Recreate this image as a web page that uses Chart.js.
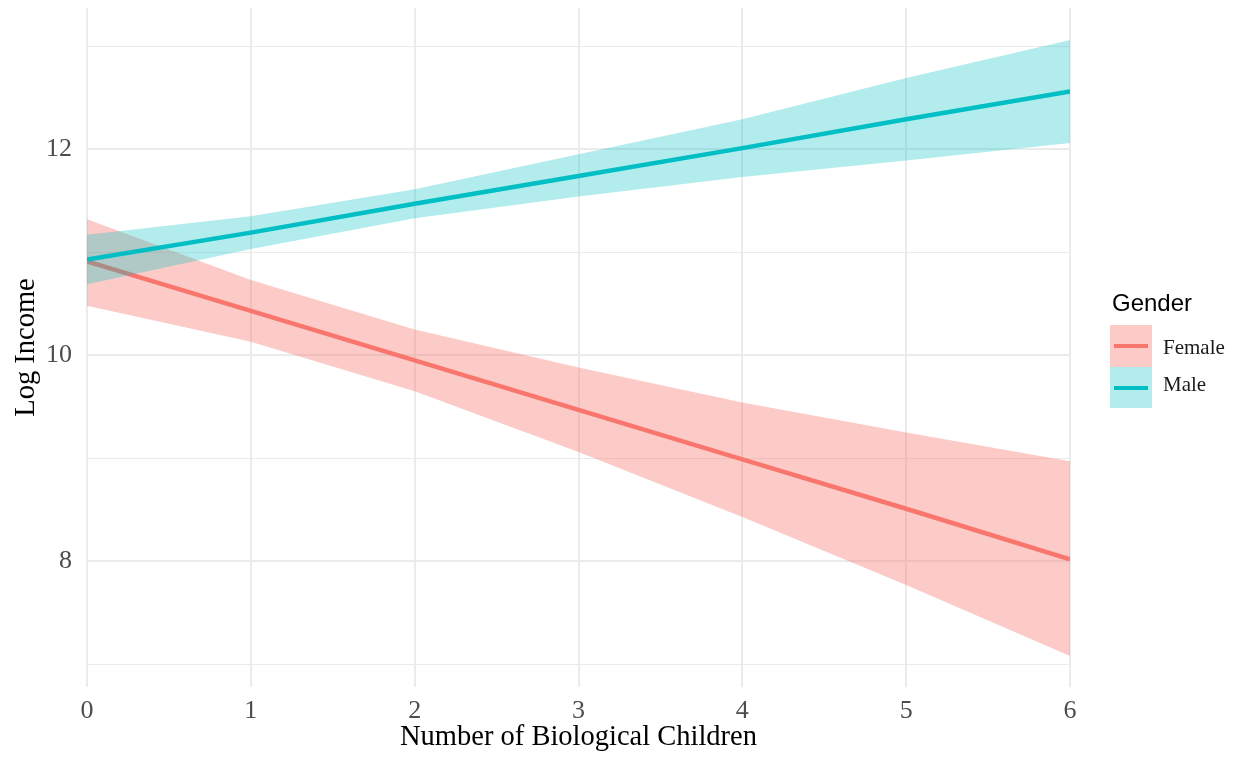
<!DOCTYPE html>
<html>
<head>
<meta charset="utf-8">
<script src="https://cdn.jsdelivr.net/npm/chart.js@4.4.1/dist/chart.umd.min.js"></script>
<style>
  body { margin: 0; background: #fff; }
  #wrap { position: relative; width: 1238px; height: 759px; }
  .lg-title { position: absolute; left: 1112px; top: 291px; font: 24px/24px "Liberation Sans", Arial, sans-serif; color: #000; }
  .lg-key { position: absolute; left: 1110px; width: 42px; }
  .lg-key span { position: absolute; left: 4px; width: 34px; height: 4px; }
  .lg-label { position: absolute; left: 1163px; font: 21px/21px "Liberation Serif", "Times New Roman", serif; color: #1a1a1a; }
</style>
</head>
<body>
<div id="wrap">
  <canvas id="chart" width="1238" height="759"></canvas>
  <div class="lg-title">Gender</div>
  <div class="lg-key" id="key-female" style="top:325px;height:42px;"><span style="top:19px;"></span></div>
  <div class="lg-key" id="key-male" style="top:367px;height:41px;"><span style="top:19px;"></span></div>
  <div class="lg-label" style="top:337px;">Female</div>
  <div class="lg-label" style="top:374px;">Male</div>
</div>
<script>
// x values (number of biological children)
const children = [0, 1, 2, 3, 4, 5, 6];

// fitted log income and confidence band
const femaleFit   = [10.91, 10.43, 9.95, 9.47, 8.99, 8.51, 8.02];
const femaleUpper = [11.32, 10.73, 10.25, 9.88, 9.54, 9.25, 8.97];
const femaleLower = [10.48, 10.13, 9.65, 9.06, 8.43, 7.77, 7.08];

const maleFit   = [10.93, 11.19, 11.47, 11.74, 12.01, 12.29, 12.56];
const maleUpper = [11.17, 11.35, 11.61, 11.95, 12.29, 12.69, 13.06];
const maleLower = [10.69, 11.03, 11.33, 11.54, 11.73, 11.89, 12.06];

const yTicks = [7, 8, 9, 10, 11, 12, 13];
const yTickLabels = { 8: "8", 10: "10", 12: "12" };

const RED = "#F8766D", RED_FILL = "rgba(248,118,109,0.38)";
const CYAN = "#00BFC4", CYAN_FILL = "rgba(0,191,196,0.30)";

document.getElementById("key-female").style.background = RED_FILL;
document.getElementById("key-female").firstChild.style.background = RED;
document.getElementById("key-male").style.background = CYAN_FILL;
document.getElementById("key-male").firstChild.style.background = CYAN;

const pts = arr => arr.map((v, i) => ({ x: children[i], y: v }));

function lineSet(label, data, color) {
  return { label, data: pts(data), borderColor: color, borderWidth: 4.5, pointRadius: 0, fill: false, tension: 0, borderCapStyle: "butt" };
}
function bandSet(label, data, fillColor, fill) {
  return { label, data: pts(data), borderWidth: 0, borderColor: "transparent", backgroundColor: fillColor, pointRadius: 0, fill, tension: 0 };
}

// dataset 0 is drawn on top in Chart.js, so list top layer first
const datasets = [
  lineSet("Male", maleFit, CYAN),
  bandSet("Male upper", maleUpper, CYAN_FILL, "+1"),
  bandSet("Male lower", maleLower, CYAN_FILL, false),
  lineSet("Female", femaleFit, RED),
  bandSet("Female upper", femaleUpper, RED_FILL, "+1"),
  bandSet("Female lower", femaleLower, RED_FILL, false),
];

const serif = "'Liberation Serif', 'Times New Roman', serif";

new Chart(document.getElementById("chart").getContext("2d"), {
  type: "line",
  data: { datasets },
  options: {
    responsive: false,
    animation: false,
    layout: { padding: { top: 8, right: 168, left: 0, bottom: 0 } },
    plugins: { legend: { display: false }, tooltip: { enabled: false } },
    scales: {
      x: {
        type: "linear",
        min: 0,
        max: 6,
        border: { display: false },
        grid: { color: "#ebebeb", lineWidth: 2, drawTicks: false },
        ticks: { stepSize: 1, padding: 9, color: "#4d4d4d", font: { family: serif, size: 26 } },
        title: { display: true, text: "Number of Biological Children", color: "#000", font: { family: serif, size: 28.5 }, padding: { top: 0, bottom: 4 } },
        afterFit: s => { s.height = 72; s.paddingLeft = 0; s.paddingRight = 0; },
      },
      y: {
        min: 6.78,
        max: 13.37,
        border: { display: false },
        grid: { color: "#ebebeb", lineWidth: c => (c.tick && c.tick.value % 2 === 0 ? 2 : 1), drawTicks: false },
        afterBuildTicks: s => { s.ticks = yTicks.map(v => ({ value: v })); },
        ticks: { padding: 15, color: "#4d4d4d", font: { family: serif, size: 26 }, callback: v => yTickLabels[v] || "" },
        title: { display: true, text: "Log Income", color: "#000", font: { family: serif, size: 28.5 }, padding: { top: 9, bottom: 0 } },
        afterFit: s => { s.width = 87; s.paddingTop = 0; s.paddingBottom = 0; },
      },
    },
  },
});
</script>
</body>
</html>
